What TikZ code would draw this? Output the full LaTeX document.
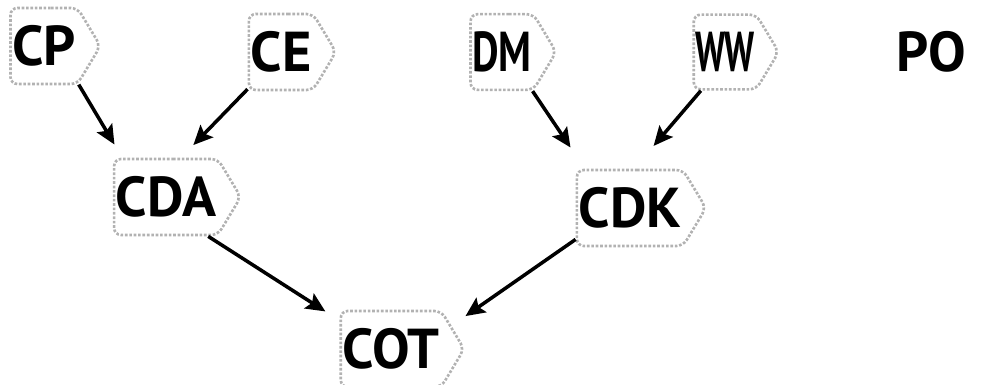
\documentclass[tikz,border=0pt]{standalone}
\usepackage{fontspec}
\usepackage{graphicx}
\newfontfamily\lblfont{PT Sans}
\usetikzlibrary{arrows.meta,shapes.symbols}

\begin{document}
\begin{tikzpicture}[x=0.02cm, y=-0.02cm, >={Stealth[length=11pt,width=10pt,inset=2pt]},
  lbl/.style={font={\lblfont\bfseries\fontsize{32}{36}\selectfont}, inner xsep=1pt, inner ysep=10pt},
  halo/.style={lbl, signal, signal to=east, signal pointer angle=118, rounded corners=4pt,
    draw=gray!60, densely dotted, line width=1.5pt},
  link/.style={->, line width=2pt, solid, sharp corners, black}]
  \useasboundingbox (0,0) rectangle (993,385);
  %% top row
  \node[halo] (CP) at (44,46)  {CP};
  \node[halo] (CE) at (281,52) {CE};
  \node[halo] (DM) at (502,52) {\scalebox{0.73}[1]{DM}};
  \node[halo] (WW) at (725,52) {\scalebox{0.62}[1]{WW}};
  \node[lbl]  (PO) at (931,52) {PO};
  %% middle row
  \node[halo] (CDA) at (166,197) {CDA};
  \node[halo] (CDK) at (630,208) {CDK};
  %% bottom
  \node[halo] (COT) at (391,349) {COT};
  %% arrows
  \draw[link, shorten >=8.7pt] (CP.-48)  -- (CDA.138);
  \draw[link, shorten >=10pt]  (CE.228)  -- (CDA.69);
  \draw[link, shorten >=14.5pt] (DM.-52) -- (CDK.139);
  \draw[link, shorten >=17pt]  (WW.238)  -- (CDK.84);
  \draw[link, shorten >=9.5pt] (CDA.-43) -- (COT.151);
  \draw[link, shorten >=9.6pt] (CDK.210) -- (COT.21);
\end{tikzpicture}
\end{document}
